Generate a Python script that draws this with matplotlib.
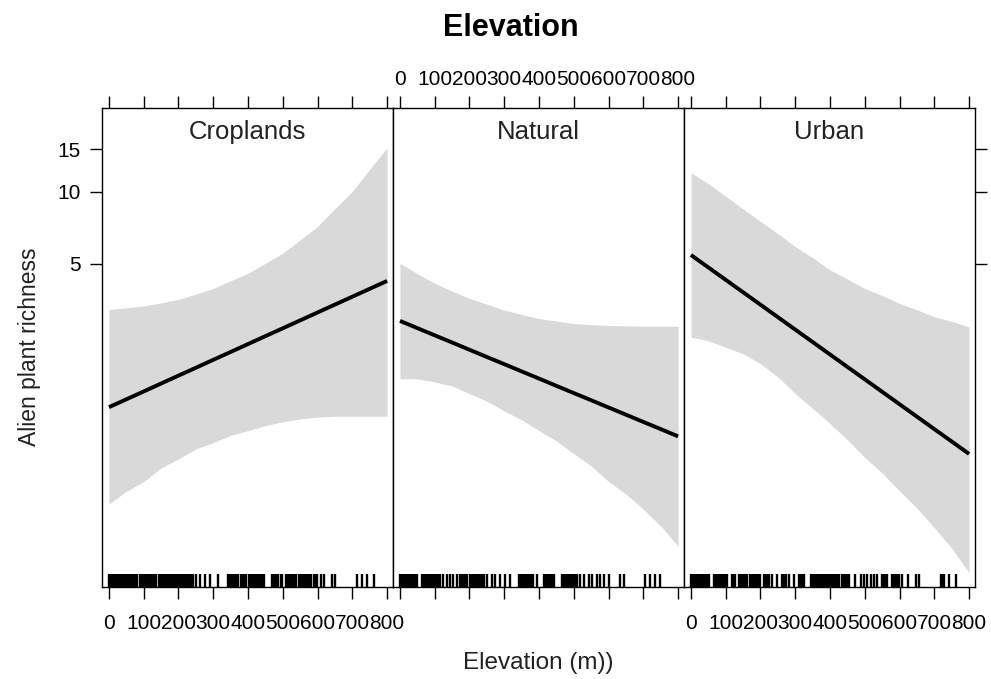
import matplotlib.pyplot as plt
from matplotlib.ticker import NullLocator

plt.rcParams['font.family'] = ['Liberation Sans', 'DejaVu Sans']

# fitted richness and 95% band at these elevations (m)
elev_grid = [0, 50, 100, 150, 200, 250, 300, 350, 400,
             450, 500, 550, 600, 650, 700, 750, 800]

crop_fit = [1.265, 1.364, 1.471, 1.587, 1.712, 1.846, 1.992, 2.148, 2.317,
            2.500, 2.696, 2.908, 3.137, 3.384, 3.650, 3.937, 4.246]
crop_upper = [3.23, 3.28, 3.34, 3.44, 3.56, 3.74, 3.95, 4.25, 4.57,
              5.03, 5.54, 6.30, 7.16, 8.50, 10.0, 12.4, 15.2]
crop_lower = [0.50, 0.564, 0.62, 0.706, 0.77, 0.847, 0.90, 0.965, 1.01,
              1.06, 1.10, 1.13, 1.15, 1.16, 1.16, 1.16, 1.16]

nat_fit = [2.894, 2.700, 2.520, 2.352, 2.194, 2.047, 1.911, 1.783, 1.664,
           1.552, 1.448, 1.352, 1.261, 1.177, 1.098, 1.025, 0.956]
nat_upper = [5.03, 4.55, 4.15, 3.85, 3.59, 3.40, 3.21, 3.08, 2.96,
             2.89, 2.82, 2.79, 2.77, 2.76, 2.75, 2.75, 2.75]
nat_lower = [1.66, 1.66, 1.61, 1.55, 1.44, 1.34, 1.22, 1.12, 1.01,
             0.915, 0.81, 0.72, 0.62, 0.55, 0.475, 0.405, 0.333]

urb_fit = [5.445, 4.833, 4.290, 3.808, 3.380, 2.999, 2.662, 2.363, 2.097,
           1.861, 1.652, 1.466, 1.301, 1.155, 1.025, 0.910, 0.808]
urb_upper = [11.98, 10.8, 9.55, 8.47, 7.51, 6.68, 5.90, 5.30, 4.72,
             4.32, 3.95, 3.69, 3.42, 3.22, 3.01, 2.88, 2.73]
urb_lower = [2.48, 2.39, 2.25, 2.11, 1.92, 1.69, 1.44, 1.25, 1.08,
             0.926, 0.78, 0.673, 0.566, 0.481, 0.398, 0.327, 0.258]

# site elevations for the rugs
crop_sites = [0, 4, 8, 13, 17, 22, 26, 31, 35, 39, 42,
              48, 53, 57, 62, 66, 71, 76, 81,
              90, 95, 100, 105, 110, 114,
              121, 126, 131, 136,
              143, 147, 151, 156, 160, 164, 168, 173, 177, 181, 185, 190,
              194, 198, 202, 207, 211, 215, 219, 224, 228, 232, 236, 240, 243,
              250, 263, 277, 291, 315,
              341, 345, 350, 355, 360, 365, 370,
              380, 384, 389, 394,
              403, 407, 412, 417, 422, 427, 432, 437, 441, 446,
              470, 475, 480, 485, 494, 498,
              508, 513, 518, 523, 528, 533, 537,
              546, 551, 556, 561, 566, 571, 576, 580,
              590, 595, 599,
              609, 618, 642, 651, 713, 728, 742, 761]

nat_sites = [0, 4, 8, 12, 16, 20, 24, 28, 32, 36, 40, 44, 48,
             62, 66, 70, 74, 78, 82, 86, 90, 94, 98, 102, 106, 110,
             115, 125, 134, 144, 154, 163,
             173, 177, 181, 185, 189, 192,
             202, 206, 210, 214, 219, 223, 227, 233, 238, 243, 250,
             264, 274, 288, 302, 317,
             341, 345, 349, 353, 358, 362, 367, 371, 376, 380, 384,
             394, 413, 417, 421, 425, 430, 434, 438, 442,
             466, 470, 474, 478, 483, 487, 491, 495, 500, 504, 509,
             519, 528, 543, 553, 567, 576, 586, 600,
             634, 644, 705, 719, 734, 749]

urb_sites = [0, 4, 8, 12, 16, 20, 24, 28, 32, 36, 40, 44, 48, 51,
             65, 69, 73, 77, 81, 85, 89, 93, 97, 101, 104,
             118, 123, 128,
             137, 141, 145, 149, 153, 157, 161,
             171, 175, 179, 183, 187, 191, 196, 200,
             209, 214, 219, 224,
             233, 248, 262, 267, 272, 281, 296, 310, 315, 320, 325,
             344, 348, 352, 356, 360, 364, 368, 372, 376, 380, 384, 388,
             392, 396, 400, 404, 408, 412, 416, 420, 426,
             435, 440, 445, 450, 454,
             473, 488, 498, 507, 517, 526, 536,
             550, 555, 560, 565,
             579, 584, 589, 594, 598,
             608, 623, 647, 656, 718, 723, 728, 742, 762]

land_use = ['Croplands', 'Natural', 'Urban']
fits = [crop_fit, nat_fit, urb_fit]
uppers = [crop_upper, nat_upper, urb_upper]
lowers = [crop_lower, nat_lower, urb_lower]
sites = [crop_sites, nat_sites, urb_sites]

y_ticks = [5, 10, 15]
x_ticks = [0, 100, 200, 300, 400, 500, 600, 700, 800]

W, H = 991, 679
fig = plt.figure(figsize=(W / 100, H / 100), dpi=100)

panel_x = [102, 393, 684]
panel_w = 291
top, bottom = 108, 587

for i, name in enumerate(land_use):
    ax = fig.add_axes([panel_x[i] / W, (H - bottom) / H, panel_w / W, (bottom - top) / H])
    ax.fill_between(elev_grid, lowers[i], uppers[i], color='#d9d9d9', lw=0)
    ax.plot(elev_grid, fits[i], color='black', lw=2.8, solid_capstyle='butt')
    ax.vlines(sites[i], 0, 0.028, transform=ax.get_xaxis_transform(),
              color='black', lw=1.7)

    ax.set_yscale('log')
    ax.set_ylim(0.2254, 22.3)
    ax.set_xlim(-20, 817)
    ax.set_yticks(y_ticks, [str(t) for t in y_ticks])
    ax.yaxis.set_minor_locator(NullLocator())
    ax.set_xticks(x_ticks, [str(t) for t in x_ticks])

    ax.tick_params(axis='both', direction='out', length=8.5, width=1,
                   labelsize=15, colors='black')
    ax.tick_params(axis='x', top=True, bottom=True,
                   labeltop=(i == 1), labelbottom=(i != 1),
                   pad=5 if i == 1 else 11)
    ax.tick_params(axis='y', left=(i == 0), right=(i == 2),
                   labelleft=(i == 0), labelright=False, pad=7)
    for s in ax.spines.values():
        s.set_linewidth(1.0)

    ax.text(0.5, 0.949, name, transform=ax.transAxes, ha='center', va='center',
            fontsize=18.5, color='#222222')

fig.text(511 / W, 1 - 28 / H, 'Elevation', ha='center', va='center',
         fontsize=22, fontweight='bold')
fig.text(538 / W, 1 - 663 / H, 'Elevation (m))', ha='center', va='center',
         fontsize=17.5, color='#222222')
fig.text(30 / W, 1 - 347 / H, 'Alien plant richness', ha='center', va='center',
         rotation=90, fontsize=16.5, color='#222222')

fig.savefig('out.png', dpi=100)
